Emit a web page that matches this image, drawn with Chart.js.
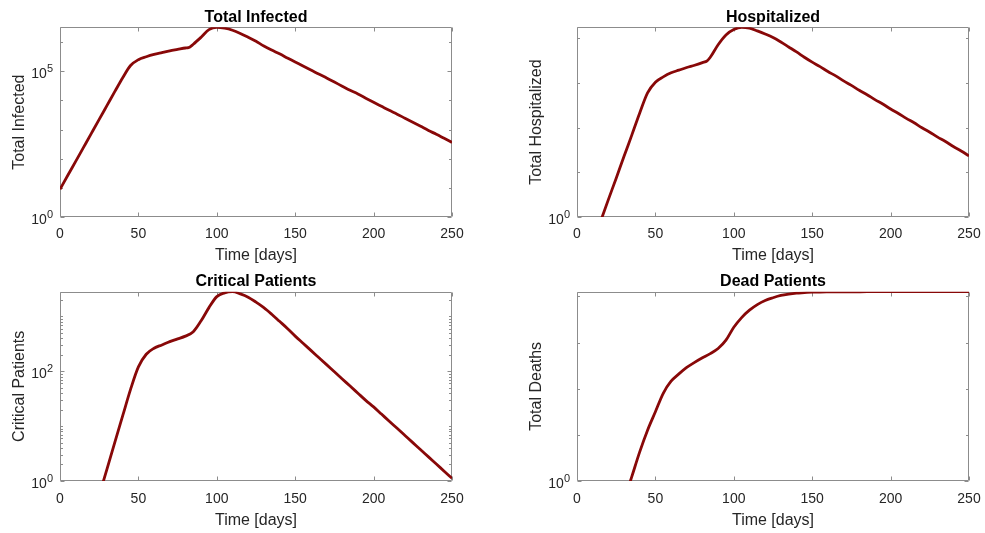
<!DOCTYPE html>
<html>
<head>
<meta charset="utf-8">
<script src="https://cdn.jsdelivr.net/npm/chart.js@4.4.1/dist/chart.umd.min.js"></script>
<style>
  html, body { margin: 0; padding: 0; background: #ffffff; }
  #wrap { position: relative; width: 985px; height: 533px; overflow: hidden; background: #ffffff; }
  #wrap canvas { position: absolute; }
</style>
</head>
<body>
<div id="wrap">
  <canvas id="cInfected" width="492" height="266" style="left:0px;top:0px"></canvas>
  <canvas id="cHosp" width="493" height="266" style="left:492px;top:0px"></canvas>
  <canvas id="cCrit" width="492" height="267" style="left:0px;top:266px"></canvas>
  <canvas id="cDead" width="493" height="267" style="left:492px;top:266px"></canvas>
</div>
<script>
// ---- model output, sampled in days ----
const infectedDays = [0,5,10,15,20,25,30,35,40,45,50,55,60,65,70,75,80,82,85,90,95,100,105,110,115,120,125,130,135,140,145,150,155,160,165,170,175,180,185,190,195,200,205,210,215,220,225,230,235,240,245,250];
const infectedTotal = [8.9,27,81,245,741,2240,6760,20400,60300,158000,251000,316000,380000,437000,501000,562000,631000,645000,
  851000,1480000,2690000,3240000,3020000,2570000,2000000,1480000,1070000,741000,
  537000,398000,288000,209000,151000,110000,81300,58900,42700,30900,
  22400,16600,12000,8710,6310,4570,3390,2450,1780,1290,
  933,692,501,363];

const hospDays = [15,20,25,30,35,40,45,50,55,60,65,70,75,80,83,85,90,95,100,105,110,115,120,125,130,135,140,145,150,155,160,165,170,175,180,185,190,195,200,205,210,215,220,225,230,235,240,245,250];
const hospTotal = [0.79,2.45,7.41,22.9,69.2,214,603,1050,1380,1700,1950,2240,2510,2880,3160,
  3800,7240,12000,15800,17800,17000,14800,12600,10500,8320,
  6460,5010,3800,2950,2340,1820,1450,1120,891,692,
  550,427,339,263,209,162,129,100,79.4,61.7,
  49.0,38.0,30.2,23.4];

const critDays = [25,30,35,40,45,50,55,60,65,70,75,80,85,90,95,100,105,110,115,120,125,130,135,140,145,150,155,160,165,170,175,180,185,190,195,200,205,210,215,220,225,230,235,240,245,250];
const critTotal = [0.55,1.66,5.13,15.5,46.8,120,204,263,302,347,389,437,
  525,832,1445,2291,2692,2818,2570,2239,1820,1445,
  1096,813,603,437,324,240,178,132,97.7,72.4,
  53.7,39.8,29.5,22.4,16.6,12.3,9.12,6.76,5.01,3.72,
  2.75,2.04,1.51,1.12];

const deathDays = [30,35,40,45,50,55,60,65,70,75,80,85,90,95,100,105,110,115,120,125,130,135,140,145,150,155,160,165,170,175,180,185,190,195,200,205,210,215,220,225,230,235,240,245,250];
const deathTotal = [0.38,1.26,4.27,12.6,31.6,79.4,145,209,288,372,468,
  575,741,1122,2138,3467,5012,6607,8128,9333,10470,
  11220,11750,12020,12300,12420,12480,12520,12550,12570,12580,
  12590,12594,12597,12599,12600,12600,12600,12600,12600,12600,
  12600,12600,12600,12600];

// ---- axis ticks ----
const xTickDays = [0, 50, 100, 150, 200, 250];
const infectedLabelTicks = [1, 1e5];
const infectedMinorTicks = [10, 100, 1000, 1e4, 1e6];
const hospLabelTicks = [1];
const hospMinorTicks = [10, 100, 1000, 1e4];
const critLabelTicks = [1, 100];
const critMinorTicks = [2,3,4,5,6,7,8,9,10,20,30,40,50,60,70,80,90,200,300,400,500,600,700,800,900,1000,2000];
const deathLabelTicks = [1];
const deathMinorTicks = [10, 100, 1000, 1e4];

const LINE_COLOR = 'rgb(136,8,8)';
const FRAME_COLOR = '#8c8c8c';
const TEXT_COLOR = '#262626';
const FONT = "'Liberation Sans', Arial, Helvetica, sans-serif";

Chart.defaults.font.family = FONT;
Chart.defaults.font.size = 16;
Chart.defaults.color = TEXT_COLOR;

// box around the plot area with inward tick marks on all four sides,
// plus power-of-ten labels (base and raised exponent) on the left
const frameTicks = {
  id: 'frameTicks',
  beforeDatasetsDraw(chart, args, opts) {
    const { ctx, chartArea: a, scales: { x, y } } = chart;
    ctx.save();
    ctx.strokeStyle = FRAME_COLOR;
    ctx.lineWidth = 1;
    const L = Math.round(a.left) + 0.5, R = Math.round(a.right) - 0.5;
    const T = Math.round(a.top) + 0.5, B = Math.round(a.bottom) - 0.5;
    ctx.beginPath();
    ctx.rect(L, T, R - L, B - T);
    const seg = (x1, y1, x2, y2) => { ctx.moveTo(x1, y1); ctx.lineTo(x2, y2); };
    opts.xTicks.forEach(v => {
      const px = Math.round(x.getPixelForValue(v)) + 0.5;
      seg(px, B, px, B - 4);
      seg(px, T, px, T + 4);
    });
    const yMin = y.min, yMax = y.max;
    const drawY = (v, len) => {
      if (v < yMin || v > yMax) return;
      const py = Math.round(y.getPixelForValue(v)) + 0.5;
      seg(L, py, L + len, py);
      seg(R, py, R - len, py);
    };
    opts.yMajor.forEach(v => drawY(v, 4));
    opts.yMinor.forEach(v => drawY(v, 2.5));
    ctx.stroke();

    ctx.fillStyle = TEXT_COLOR;
    ctx.textAlign = 'left';
    ctx.textBaseline = 'alphabetic';
    opts.yMajor.forEach(v => {
      const py = y.getPixelForValue(v);
      const exp = String(Math.round(Math.log10(v)));
      ctx.font = '11px ' + FONT;
      const wExp = ctx.measureText(exp).width;
      ctx.font = '14px ' + FONT;
      const wBase = ctx.measureText('10').width;
      const right = a.left - 7;
      ctx.fillText('10', right - wExp - wBase, py + 6.5);
      ctx.font = '11px ' + FONT;
      ctx.fillText(exp, right - wExp, py + 0.5);
    });
    ctx.restore();
  }
};

function makePanel(p) {
  const canvas = document.getElementById(p.id);
  const W = canvas.width;
  const pts = p.days.map((d, i) => ({ x: d, y: p.values[i] }));
  const yMax = Math.max(...p.values);
  new Chart(canvas, {
    type: 'line',
    data: {
      datasets: [{
        data: pts,
        borderColor: LINE_COLOR,
        borderWidth: 2.8,
        pointRadius: 0,
        fill: false,
        cubicInterpolationMode: 'monotone'
      }]
    },
    options: {
      responsive: false,
      animation: false,
      events: [],
      layout: { padding: { left: 0, top: 0, right: W - p.areaRight, bottom: p.padBottom } },
      plugins: {
        legend: { display: false },
        tooltip: { enabled: false },
        title: {
          display: true,
          text: p.title,
          fullSize: false,
          color: '#000000',
          font: { size: 16, weight: 'bold' },
          padding: { top: p.titleTop, bottom: p.titleBottom }
        },
        frameTicks: { xTicks: xTickDays, yMajor: p.labelTicks, yMinor: p.minorTicks }
      },
      scales: {
        x: {
          type: 'linear',
          min: 0, max: 250,
          afterBuildTicks: s => { s.ticks = xTickDays.map(v => ({ value: v })); },
          ticks: { padding: p.xTickPad, autoSkip: false, maxRotation: 0, color: TEXT_COLOR, font: { size: 14 } },
          grid: { display: false, drawTicks: false },
          border: { display: false },
          title: { display: true, text: 'Time [days]', color: TEXT_COLOR, font: { size: 16 }, padding: 0 },
          afterFit: s => { s.height = p.xHeight; s.paddingLeft = 0; s.paddingRight = 0; }
        },
        y: {
          type: 'logarithmic',
          min: 1, max: yMax,
          afterBuildTicks: s => { s.ticks = p.labelTicks.map(v => ({ value: v })); },
          ticks: { display: false },
          grid: { display: false, drawTicks: false },
          border: { display: false },
          title: { display: true, text: p.yTitle, color: TEXT_COLOR, font: { size: 16 }, padding: { top: p.yTitlePad, bottom: 0 } },
          afterFit: s => { s.width = p.areaLeft; s.paddingTop = 0; s.paddingBottom = 0; }
        }
      }
    },
    plugins: [frameTicks]
  });
}

makePanel({ id: 'cInfected', title: 'Total Infected', yTitle: 'Total Infected',
  days: infectedDays, values: infectedTotal, labelTicks: infectedLabelTicks, minorTicks: infectedMinorTicks,
  areaLeft: 60, areaRight: 452, titleTop: 8.1, titleBottom: 0, xHeight: 48.6, padBottom: 0.4, xTickPad: 8.5, yTitlePad: 9.9 });

makePanel({ id: 'cHosp', title: 'Hospitalized', yTitle: 'Total Hospitalized',
  days: hospDays, values: hospTotal, labelTicks: hospLabelTicks, minorTicks: hospMinorTicks,
  areaLeft: 85, areaRight: 477, titleTop: 8.1, titleBottom: 0, xHeight: 48.6, padBottom: 0.4, xTickPad: 8.5, yTitlePad: 34.9 });

makePanel({ id: 'cCrit', title: 'Critical Patients', yTitle: 'Critical Patients',
  days: critDays, values: critTotal, labelTicks: critLabelTicks, minorTicks: critMinorTicks,
  areaLeft: 60, areaRight: 452, titleTop: 6.4, titleBottom: 0.1, xHeight: 49.6, padBottom: 2.4, xTickPad: 9.5, yTitlePad: 9.9 });

makePanel({ id: 'cDead', title: 'Dead Patients', yTitle: 'Total Deaths',
  days: deathDays, values: deathTotal, labelTicks: deathLabelTicks, minorTicks: deathMinorTicks,
  areaLeft: 85, areaRight: 477, titleTop: 6.4, titleBottom: 0.1, xHeight: 49.6, padBottom: 2.4, xTickPad: 9.5, yTitlePad: 34.9 });
</script>
</body>
</html>
